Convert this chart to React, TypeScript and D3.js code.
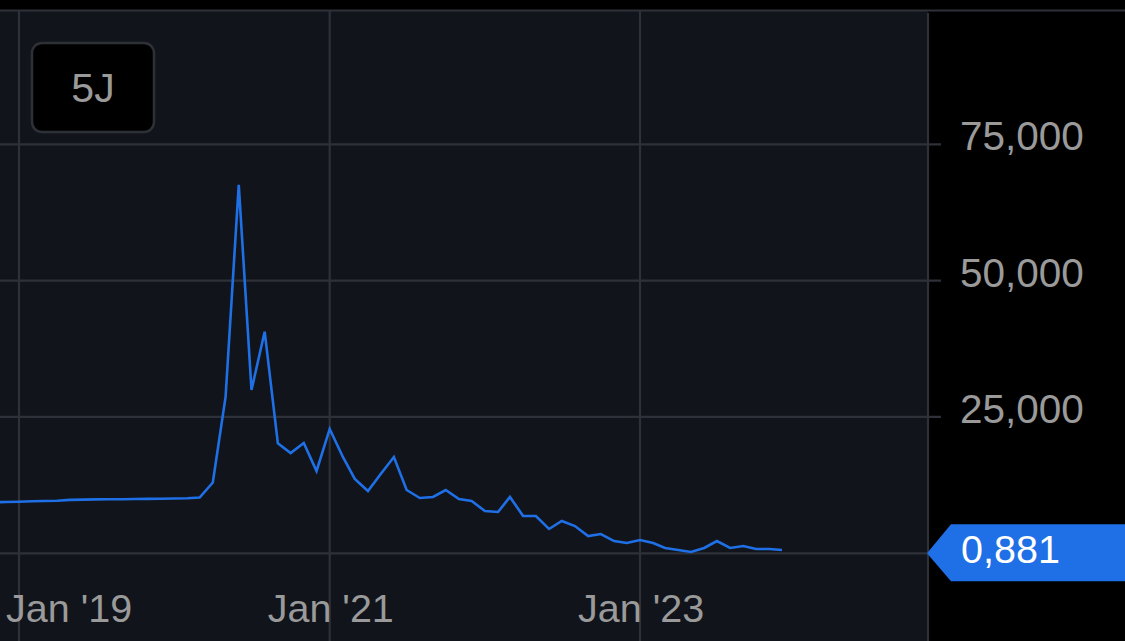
import React from "react";
import * as d3 from "d3";

const startMonth = { year: 2018, month: 10 }; // Nov 2018 (0-based month)
const values: number[] = [
  9350, 9400, 9450, 9550, 9600, 9650, 9800, 9850, 9880, 9900, 9920, 9950, 9980, 10000,
  10050, 10100, 10230, 12985, 28665, 67550, 29950, 40640, 20170, 18390, 20230, 15090,
  22800, 17660, 13630, 11430, 14540, 17660, 11610, 10140, 10330, 11610, 9960, 9590,
  7760, 7570, 10330, 6840, 6840, 4460, 5920, 5000, 3170, 3540, 2250, 1890,
  2440, 1890, 970, 610, 240, 970, 2250, 970, 1340, 790, 790, 610,
];
const yTicks: number[] = [0, 25000, 50000, 75000];
const xTickYears: number[] = [2019, 2021, 2023];
const xTickLabels: string[] = ["Jan '19", "Jan '21", "Jan '23"];
const lastLabel = "0,881";
const lastValue = 0.881;
const rangeButton = "5J";

const W = 1125;
const H = 641;
const plotLeft = 0;
const plotRight = 928;
const plotTop = 11;
const font = "'Liberation Sans', Arial, Helvetica, sans-serif";

export default function App() {
  const data = values.map((v, i) => ({
    date: new Date(startMonth.year, startMonth.month + i, 1),
    value: v,
  }));
  const x = d3
    .scaleTime()
    .domain([new Date(2019, 0, 1), new Date(2023, 0, 1)])
    .range([19, 640]);
  const y = d3.scaleLinear().domain([0, 75000]).range([553.3, 144.3]);
  const line = d3
    .line<{ date: Date; value: number }>()
    .x((d) => x(d.date))
    .y((d) => y(d.value));
  const fmt = d3.format(",");
  const by = y(lastValue);

  return (
    <svg
      width={W}
      height={H}
      style={{ position: "absolute", left: 0, top: 0, display: "block" }}
    >
      <defs>
        <clipPath id="plotClip">
          <rect x={plotLeft} y={plotTop} width={plotRight - plotLeft} height={H - plotTop} />
        </clipPath>
      </defs>
      <rect x={0} y={0} width={W} height={H} fill="#000" />
      <rect x={plotLeft} y={plotTop} width={plotRight - plotLeft} height={H - plotTop} fill="#11141b" />
      <line x1={0} x2={W} y1={10.5} y2={10.5} stroke="#2e3139" strokeWidth={2} />
      {xTickYears.map((yr) => (
        <line
          key={yr}
          x1={x(new Date(yr, 0, 1))}
          x2={x(new Date(yr, 0, 1))}
          y1={plotTop}
          y2={H}
          stroke="#2e3139"
          strokeWidth={2.2}
        />
      ))}
      {yTicks.map((t) => (
        <line key={t} x1={0} x2={941} y1={y(t)} y2={y(t)} stroke="#2e3139" strokeWidth={2.2} />
      ))}
      <line x1={plotRight} x2={plotRight} y1={13} y2={H} stroke="#2e3139" strokeWidth={2.2} />
      <path
        d={line(data) || ""}
        fill="none"
        stroke="#1f70e6"
        strokeWidth={2.6}
        strokeLinejoin="miter"
        clipPath="url(#plotClip)"
      />
      {yTicks
        .filter((t) => t > 0)
        .map((t) => (
          <text
            key={t}
            x={960}
            y={y(t) + 6}
            fill="#9a9a9a"
            fontFamily={font}
            fontSize={40.5}
          >
            {fmt(t)}
          </text>
        ))}
      {xTickYears.map((yr, i) => {
        const cx = x(new Date(yr, 0, 1));
        const half = 62;
        const left = Math.max(6, cx - half);
        return (
          <text key={yr} x={left} y={622} fill="#9a9a9a" fontFamily={font} fontSize={39.5}>
            {xTickLabels[i]}
          </text>
        );
      })}
      <path
        d={`M${plotRight - 1},${by} L${951},${by - 29} L${W},${by - 29} L${W},${by + 28} L${951},${by + 28} Z`}
        fill="#1f70e6"
      />
      <text x={961} y={by + 10} fill="#ffffff" fontFamily={font} fontSize={39.5}>
        {lastLabel}
      </text>
      <rect x={32} y={43} width={122} height={89} rx={10} ry={10} fill="#000" stroke="#2e3038" strokeWidth={2.5} />
      <text x={93} y={102} textAnchor="middle" fill="#9a9a9a" fontFamily={font} fontSize={41}>
        {rangeButton}
      </text>
    </svg>
  );
}
